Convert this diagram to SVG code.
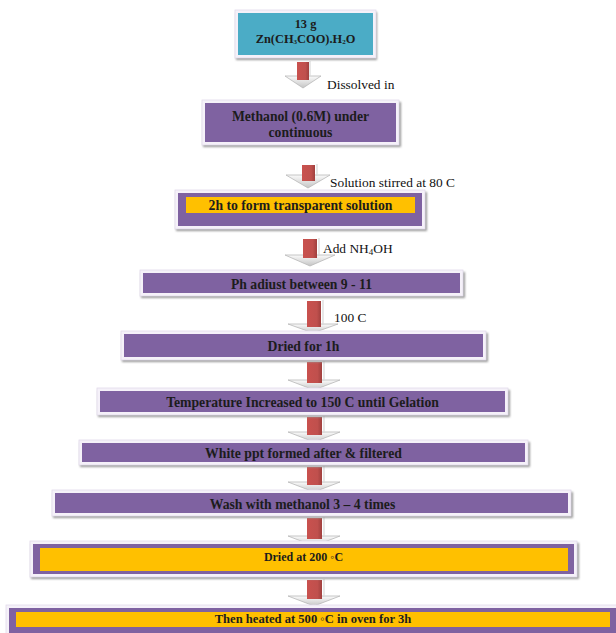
<svg xmlns="http://www.w3.org/2000/svg" width="616" height="633" viewBox="0 0 616 633">
<defs>
<filter id="blur" x="-5%" y="-20%" width="110%" height="140%"><feGaussianBlur stdDeviation="1"/></filter>
<linearGradient id="head" x1="0" y1="0" x2="0" y2="1">
<stop offset="0" stop-color="#fbfbfb"/><stop offset="1" stop-color="#c4c4c4"/>
</linearGradient>
<linearGradient id="shaft" x1="0" y1="0" x2="1" y2="0">
<stop offset="0" stop-color="#c9514e"/><stop offset="0.7" stop-color="#c0504d"/><stop offset="1" stop-color="#a0403e"/>
</linearGradient>
</defs>
<style>
.sh{fill:#9a9a9a;filter:url(#blur)}
.bd{fill:#f5f1f9;stroke:#e2dbea;stroke-width:0.8}
.pu{fill:#7f62a1}
.te{fill:#4bacc6}
.go{fill:#ffc000}
.bt{font-family:"Liberation Serif","Times New Roman",serif;font-weight:bold;font-size:13.7px;fill:#1c1c1c;text-anchor:middle}
.lb{font-family:"Liberation Serif","Times New Roman",serif;font-size:13.4px;fill:#111}
.hd{fill:url(#head);stroke:#b8b8b8;stroke-width:0.8}
.sf{fill:url(#shaft)}
.sl{stroke:#d8d8d8;stroke-width:1.2}
</style>

<g id="connectors">
<g id="a1"><polygon class="hd" points="285,76 303,88 321,76"/><rect class="sf" x="297" y="62" width="12" height="18"/><line class="sl" x1="310" y1="61" x2="310" y2="76"/><text class="lb" x="327" y="89">Dissolved in</text></g>
<g id="a2"><polygon class="hd" points="286,175 308,188 330,175"/><rect class="sf" x="302" y="165" width="13" height="16"/><line class="sl" x1="317" y1="164" x2="317" y2="176"/><text class="lb" x="330" y="187">Solution stirred at 80 C</text></g>
<g id="a3"><polygon class="hd" points="285,255 310,266 335,255"/><rect class="sf" x="303" y="239" width="14" height="19"/><line class="sl" x1="319" y1="238" x2="319" y2="256"/><text class="lb" x="323" y="253">Add NH<tspan font-size="9" dy="2">4</tspan><tspan dy="-2">OH</tspan></text></g>
<g id="a4"><polygon class="hd" points="288,324 313,333 338,324"/><rect class="sf" x="307" y="301" width="14" height="26"/><line class="sl" x1="323" y1="300" x2="323" y2="325"/><text class="lb" x="334" y="322">100 C</text></g>
<g id="a5"><polygon class="hd" points="288,380 314,390 340,380"/><rect class="sf" x="307" y="362" width="15" height="21"/><line class="sl" x1="324" y1="361" x2="324" y2="381"/></g>
<g id="a6"><polygon class="hd" points="288,432 314,442 340,432"/><rect class="sf" x="307" y="417" width="15" height="18"/><line class="sl" x1="324" y1="416" x2="324" y2="433"/></g>
<g id="a7"><polygon class="hd" points="288,482 314,492 340,482"/><rect class="sf" x="307" y="467" width="15" height="18"/><line class="sl" x1="324" y1="466" x2="324" y2="483"/></g>
<g id="a8"><polygon class="hd" points="288,536 314,546 340,536"/><rect class="sf" x="307" y="518" width="15" height="21"/><line class="sl" x1="324" y1="517" x2="324" y2="537"/></g>
<g id="a9"><polygon class="hd" points="288,596 314,606 340,596"/><rect class="sf" x="307" y="580" width="15" height="19"/><line class="sl" x1="324" y1="579" x2="324" y2="597"/></g>
</g>

<g id="n1">
<rect class="sh" x="236" y="12" width="141" height="48"/>
<rect class="bd" x="235" y="10" width="141" height="48"/>
<rect class="te" x="238" y="13" width="135" height="42"/>
<text class="bt" x="305.5" y="28" style="font-size:12.4px">13 g</text>
<text class="bt" x="305.5" y="43" style="font-size:12.4px">Zn(CH<tspan font-size="7" dy="1">3</tspan><tspan dy="-1">COO).H</tspan><tspan font-size="7" dy="1">2</tspan><tspan dy="-1">O</tspan></text>
</g>

<g id="n2">
<rect class="sh" x="203" y="102" width="198" height="45"/>
<rect class="bd" x="202" y="100" width="197" height="45"/>
<rect class="pu" x="205" y="103" width="191" height="39"/>
<text class="bt" x="300.5" y="121">Methanol (0.6M) under</text>
<text class="bt" x="300.5" y="137">continuous</text>
</g>

<g id="n3">
<rect class="sh" x="176" y="192" width="251" height="39"/>
<rect class="bd" x="175" y="190" width="250" height="39"/>
<rect class="pu" x="178" y="193" width="244" height="33"/>
<rect class="go" x="186" y="197" width="229" height="16"/>
<text class="bt" x="300.5" y="209.5">2h to form transparent solution</text>
</g>

<g id="n4">
<rect class="sh" x="141" y="272" width="324" height="26"/>
<rect class="bd" x="140" y="270" width="323" height="26"/>
<rect class="pu" x="143" y="273" width="317" height="20"/>
<text class="bt" x="301.5" y="288.5">Ph adiust between 9 - 11</text>
</g>

<g id="n5">
<rect class="sh" x="122" y="333" width="366" height="29"/>
<rect class="bd" x="121" y="331" width="365" height="29"/>
<rect class="pu" x="124" y="334" width="359" height="23"/>
<text class="bt" x="303.5" y="350.5">Dried for 1h</text>
</g>

<g id="n6">
<rect class="sh" x="98" y="390" width="412" height="27"/>
<rect class="bd" x="97" y="388" width="411" height="27"/>
<rect class="pu" x="100" y="391" width="405" height="21"/>
<text class="bt" x="302.5" y="407">Temperature Increased to 150 C until Gelation</text>
</g>

<g id="n7">
<rect class="sh" x="80" y="442" width="450" height="25"/>
<rect class="bd" x="79" y="440" width="449" height="25"/>
<rect class="pu" x="82" y="443" width="443" height="19"/>
<text class="bt" x="303.5" y="458">White ppt formed after &amp; filtered</text>
</g>

<g id="n8">
<rect class="sh" x="53" y="492" width="520" height="26"/>
<rect class="bd" x="52" y="490" width="519" height="26"/>
<rect class="pu" x="55" y="493" width="513" height="20"/>
<text class="bt" x="302.5" y="509">Wash with methanol 3 – 4 times</text>
</g>

<g id="n9">
<rect class="sh" x="31" y="543" width="548" height="36"/>
<rect class="bd" x="30" y="541" width="547" height="36"/>
<rect class="pu" x="33" y="544" width="541" height="30"/>
<rect class="go" x="40" y="548" width="528" height="23"/>
<text class="bt" x="303.5" y="561" style="font-size:12px">Dried at 200 ◦C</text>
</g>

<g id="n10">
<rect class="bd" x="6" y="605" width="612" height="30"/>
<rect class="pu" x="9" y="608" width="607" height="25"/>
<rect class="go" x="16" y="612" width="594" height="15"/>
<text class="bt" x="313" y="623" style="font-size:12.6px">Then heated at 500 ◦C in oven for 3h</text>
</g>
</svg>
